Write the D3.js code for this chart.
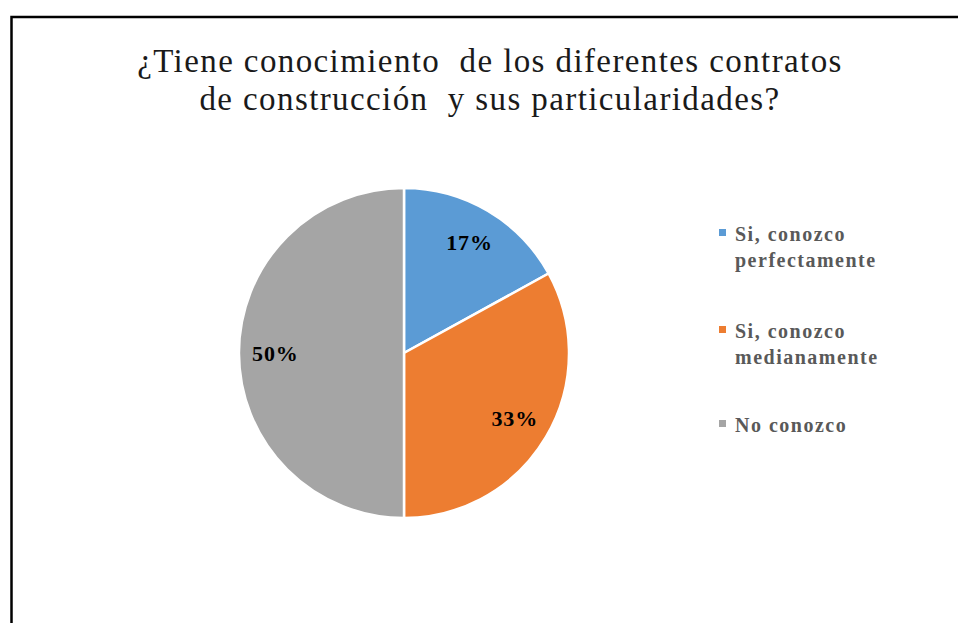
<!DOCTYPE html>
<html><head><meta charset="utf-8">
<script src="https://cdn.jsdelivr.net/npm/d3@7"></script>
<style>html,body{margin:0;padding:0;background:#fff;}svg{display:block;}</style>
</head><body>
<svg id="c" width="958" height="623"></svg>
<script>
const categories = ["Si, conozco perfectamente", "Si, conozco medianamente", "No conozco"];
const legendLines = [["Si, conozco", "perfectamente"], ["Si, conozco", "medianamente"], ["No conozco"]];
const values = [17, 33, 50];
const colors = ["#5B9BD5", "#ED7D31", "#A5A5A5"];
const titleLines = ["¿Tiene conocimiento  de los diferentes contratos", "de construcción  y sus particularidades?"];

const FONT = "'Liberation Serif', 'Times New Roman', serif";
const svg = d3.select("#c");
svg.append("rect").attr("width", 958).attr("height", 623).attr("fill", "#fff");
// frame (only left and top visible)
svg.append("rect").attr("x", 11.5).attr("y", 17).attr("width", 1000).attr("height", 1000)
  .attr("fill", "none").attr("stroke", "#000").attr("stroke-width", 2.5);

svg.append("text").attr("x", 490).attr("y", 72).attr("text-anchor", "middle")
  .attr("font-family", FONT).attr("font-size", 33).attr("letter-spacing", 1.4)
  .attr("fill", "#1a1a1a").style("white-space", "pre")
  .selectAll("tspan").data(titleLines).join("tspan")
  .attr("x", 490).attr("dy", (d, i) => i ? 38 : 0).text(d => d);

const cx = 404, cy = 353, r = 165;
const pie = d3.pie().sort(null).value(d => d);
const arcs = pie(values);
const arc = d3.arc().innerRadius(0).outerRadius(r);
const g = svg.append("g").attr("transform", `translate(${cx},${cy})`);
g.selectAll("path").data(arcs).join("path")
  .attr("d", arc).attr("fill", (d, i) => colors[i])
  .attr("stroke", "#fff").attr("stroke-width", 2.5);

const labelArc = d3.arc().innerRadius(r * 0.78).outerRadius(r * 0.78);
g.selectAll("text.lbl").data(arcs).join("text").attr("class", "lbl")
  .attr("transform", d => { const c = labelArc.centroid(d); return `translate(${c[0]},${c[1]})`; })
  .attr("text-anchor", "middle").attr("dy", "0.35em")
  .attr("font-family", FONT).attr("font-weight", "bold")
  .attr("font-size", 22).attr("letter-spacing", 0.8).attr("fill", "#000")
  .text(d => d.data + "%");

const lg = svg.append("g");
const legY = [241, 338, 432];
categories.forEach((c, i) => {
  lg.append("rect").attr("x", 719).attr("y", legY[i] - 12).attr("width", 7).attr("height", 7).attr("fill", colors[i]);
  lg.append("text").attr("x", 735).attr("y", legY[i])
    .attr("font-family", FONT).attr("font-weight", "bold")
    .attr("font-size", 20).attr("fill", "#595959").attr("letter-spacing", 1.5)
    .selectAll("tspan").data(legendLines[i]).join("tspan")
    .attr("x", 735).attr("dy", (d, j) => j ? 26 : 0).text(d => d);
});
</script>
</body></html>
